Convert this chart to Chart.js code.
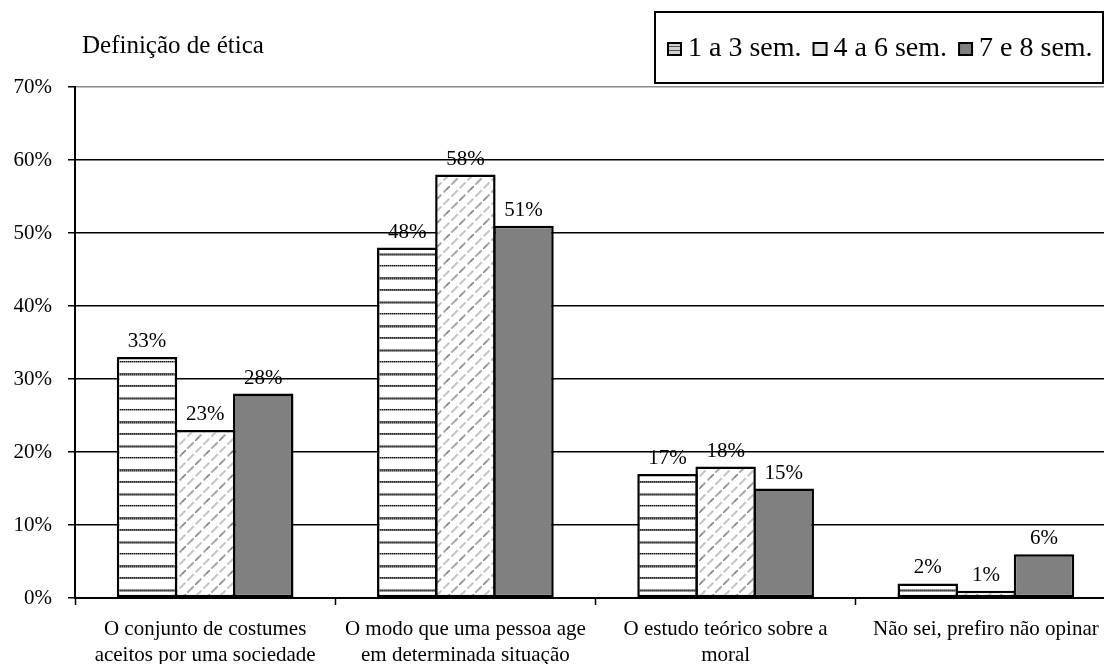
<!DOCTYPE html>
<html>
<head>
<meta charset="utf-8">
<script src="https://cdn.jsdelivr.net/npm/chart.js@4.4.0/dist/chart.umd.min.js"></script>
<style>
  html, body { margin: 0; padding: 0; overflow: hidden; background: #fff; }
  #wrap { position: relative; width: 1116px; height: 664px; }
</style>
</head>
<body>
<div id="wrap"><canvas id="c" width="1116" height="664"></canvas></div>
<script>
// ---- data ----
const categories = [
  ["O conjunto de costumes", "aceitos por uma sociedade"],
  ["O modo que uma pessoa age", "em determinada situação"],
  ["O estudo teórico sobre a", "moral"],
  "Não sei, prefiro não opinar"
];
const seriesNames = ["1 a 3 sem.", "4 a 6 sem.", "7 e 8 sem."];
const sem1a3 = [33, 48, 17, 2];
const sem4a6 = [23, 58, 18, 1];
const sem7e8 = [28, 51, 15, 6];
const yTicks = [0, 10, 20, 30, 40, 50, 60, 70];
const chartTitle = "Definição de ética";

const FONT = "'Liberation Serif', 'Times New Roman', serif";

// ---- fill patterns ----
// white ground crossed by dotted horizontal bands of varying weight
function stripePattern(ctx) {
  const w = 6, h = 48;
  const c = document.createElement('canvas');
  c.width = w; c.height = h;
  const g = c.getContext('2d');
  g.fillStyle = '#fff'; g.fillRect(0, 0, w, h);
  const band = (y, rows) => {
    rows.forEach(([dark, light], r) => {
      for (let x = 0; x < w; x++) {
        g.fillStyle = (x % 2 === 0) ? dark : light;
        g.fillRect(x, y + r, 1, 1);
      }
    });
  };
  band(1, [['#222', '#6a6a6a'], ['#555', '#777']]);
  band(13, [['#8a8a8a', '#a0a0a0'], ['#404040', '#505050'], ['#8a8a8a', '#a8a8a8']]);
  band(25, [['#111', '#777'], ['#999', '#bbb']]);
  band(37, [['#4a4a4a', '#6a6a6a'], ['#2e2e2e', '#808080'], ['#909090', '#b0b0b0']]);
  return ctx.createPattern(c, 'repeat');
}

// white ground with broken light-grey diagonal hatching
function hatchPattern(ctx) {
  const s = 24;
  const c = document.createElement('canvas');
  c.width = s; c.height = s;
  const g = c.getContext('2d');
  g.fillStyle = '#fff'; g.fillRect(0, 0, s, s);
  g.lineCap = 'butt';
  [-24, -12, 0, 12, 24, 36, 48].forEach((k, i) => {
    g.strokeStyle = i % 2 ? '#a9a9a9' : '#c4c4c4';
    g.lineWidth = 2;
    g.setLineDash([8, 3]);
    g.beginPath();
    g.moveTo(-4, k + 4);
    g.lineTo(s + 4, k - s - 4);
    g.stroke();
  });
  g.setLineDash([]);
  g.strokeStyle = '#777';
  g.lineWidth = 1;
  g.beginPath(); g.moveTo(3, 9); g.lineTo(7, 5); g.stroke();
  g.beginPath(); g.moveTo(14, 22); g.lineTo(18, 18); g.stroke();
  return ctx.createPattern(c, 'repeat');
}

const canvas = document.getElementById('c');
const ctx = canvas.getContext('2d');

// ---- plugins ----
const titleText = {
  id: 'titleText',
  afterDraw(chart) {
    const c = chart.ctx;
    c.save();
    c.font = "25px " + FONT;
    c.fillStyle = '#000';
    c.textBaseline = 'alphabetic';
    c.textAlign = 'left';
    c.fillText(chartTitle, 82, 53);
    c.restore();
  }
};

const swatchFills = ['#d0d0d0', '#e4e4e4', '#808080'];

const legendBox = {
  id: 'legendBox',
  afterDraw(chart) {
    const c = chart.ctx;
    const box = { x: 655, y: 12, w: 448, h: 71 };
    c.save();
    c.strokeStyle = '#000';
    c.lineWidth = 2;
    c.strokeRect(box.x, box.y, box.w, box.h);
    c.font = "28px " + FONT;
    c.textBaseline = 'alphabetic';
    let x = box.x + 13;
    chart.data.datasets.forEach((ds, i) => {
      c.fillStyle = swatchFills[i];
      c.fillRect(x, 43, 13, 12);
      if (i === 0) {
        c.fillStyle = '#555';
        c.fillRect(x, 46, 13, 1);
        c.fillRect(x, 50, 13, 1);
      }
      c.lineWidth = 2;
      c.strokeStyle = '#000';
      c.strokeRect(x, 43, 13, 12);
      x += 13 + 7;
      c.fillStyle = '#000';
      c.fillText(ds.label, x, 56);
      x += c.measureText(ds.label).width + 12;
    });
    c.restore();
  }
};

const valueLabels = {
  id: 'valueLabels',
  afterDatasetsDraw(chart) {
    const c = chart.ctx;
    c.save();
    c.font = "21px " + FONT;
    c.fillStyle = '#000';
    c.textAlign = 'center';
    c.textBaseline = 'alphabetic';
    chart.data.datasets.forEach((ds, i) => {
      const meta = chart.getDatasetMeta(i);
      meta.data.forEach((bar, j) => {
        c.fillText(ds.data[j] + '%', bar.x, bar.y - 10);
      });
    });
    c.restore();
  }
};

new Chart(ctx, {
  type: 'bar',
  data: {
    labels: categories,
    datasets: [
      { label: seriesNames[0], data: sem1a3, backgroundColor: stripePattern(ctx) },
      { label: seriesNames[1], data: sem4a6, backgroundColor: hatchPattern(ctx) },
      { label: seriesNames[2], data: sem7e8, backgroundColor: '#808080' }
    ]
  },
  options: {
    responsive: false,
    animation: false,
    devicePixelRatio: 1,
    layout: { padding: { top: 87, left: 0, right: 0, bottom: 0 } },
    datasets: {
      bar: {
        borderColor: '#000',
        borderWidth: 2.5,
        borderSkipped: false,
        categoryPercentage: 0.67,
        barPercentage: 1.04
      }
    },
    plugins: {
      legend: { display: false },
      title: { display: false },
      tooltip: { enabled: false }
    },
    scales: {
      x: {
        offset: true,
        afterFit(scale) { scale.height = 66; },
        grid: {
          display: true,
          offset: true,
          drawOnChartArea: false,
          drawTicks: true,
          tickLength: 7,
          tickColor: '#000',
          tickWidth: 1.5
        },
        border: { display: true, color: '#000', width: 2 },
        ticks: {
          color: '#000',
          font: { family: FONT, size: 21, lineHeight: 1.25 },
          padding: 11,
          maxRotation: 0,
          minRotation: 0,
          autoSkip: false
        }
      },
      y: {
        min: 0,
        max: 70,
        afterFit(scale) { scale.width = 75; },
        afterBuildTicks(scale) { scale.ticks = yTicks.map(v => ({ value: v })); },
        grid: {
          color: c => (c.tick && c.tick.value === 70) ? '#8a8a8a' : '#000',
          lineWidth: 1.5,
          tickLength: 7,
          tickColor: '#000',
          tickWidth: 1.5
        },
        border: { display: true, color: '#000', width: 2 },
        ticks: {
          color: '#000',
          font: { family: FONT, size: 21 },
          padding: 16,
          callback: v => v + '%'
        }
      }
    }
  },
  plugins: [titleText, legendBox, valueLabels]
});
</script>
</body>
</html>
